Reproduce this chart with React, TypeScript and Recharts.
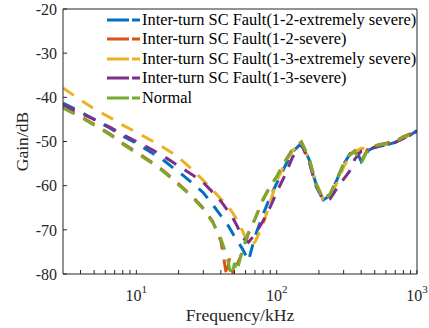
import { LineChart, Line, XAxis, YAxis } from 'recharts';

const freq = [3, 4, 5, 6.5, 8, 10, 12.5, 15, 18, 21, 25, 30, 35, 40, 44, 46, 48, 50, 52, 57, 63, 70, 80, 90, 100, 115, 130, 150, 170, 190, 215, 240, 270, 300, 330, 360, 400, 450, 500, 600, 700, 800, 900, 1000];

const fault12Extreme = [-41.3, -43.3, -45.0, -47.0, -48.8, -50.4, -52.3, -53.8, -55.8, -57.4, -59.4, -61.6, -64.3, -66.8, -68.5, -69.5, -70.5, -71.5, -72.3, -74.3, -77.0, -71.5, -66.5, -62.5, -59.5, -55.5, -52.3, -50.4, -54.0, -59.5, -63.2, -62.3, -58.5, -55.2, -53.0, -51.2, -54.5, -52.0, -51.3, -50.8, -50.2, -49.3, -48.5, -47.5];
const fault12Severe = [-42.2, -44.3, -46.1, -48.3, -50.4, -52.4, -54.4, -56.2, -58.3, -60.2, -62.4, -65.1, -68.1, -72.5, -80.5, -76.5, -79.0, -81.0, -78.0, -75.0, -70.8, -67.6, -63.2, -60.1, -58.0, -54.4, -51.7, -50.1, -53.7, -59.3, -63.1, -61.9, -58.3, -55.0, -53.0, -52.1, -54.6, -51.4, -50.9, -50.4, -49.9, -48.9, -48.2, -47.4];
const fault13Extreme = [-37.9, -40.6, -42.6, -44.6, -46.3, -47.9, -49.6, -51.0, -52.6, -54.2, -56.3, -58.8, -61.0, -63.0, -64.3, -65.1, -65.9, -66.8, -67.7, -70.2, -73.4, -72.8, -68.8, -63.7, -59.0, -54.8, -52.0, -50.3, -54.0, -59.8, -63.0, -62.4, -59.3, -55.8, -53.4, -52.3, -51.6, -51.4, -51.0, -50.7, -50.2, -49.3, -48.4, -47.7];
const fault13Severe = [-41.7, -43.6, -45.0, -46.8, -48.4, -50.0, -51.6, -53.0, -54.6, -56.0, -57.5, -59.3, -61.5, -63.5, -65.3, -66.2, -67.0, -68.0, -69.0, -71.8, -72.8, -71.0, -68.0, -64.8, -61.5, -57.5, -53.5, -50.7, -54.5, -60.0, -63.3, -63.0, -60.5, -58.5, -56.8, -54.0, -52.2, -51.8, -51.3, -50.8, -50.2, -49.3, -48.5, -47.7];
const normal = [-42.4, -44.5, -46.3, -48.5, -50.6, -52.6, -54.6, -56.4, -58.5, -60.4, -62.6, -65.3, -68.3, -72.0, -75.8, -78.5, -80.5, -77.5, -79.5, -74.5, -70.5, -67.5, -63.0, -60.0, -58.0, -54.5, -51.8, -50.2, -53.8, -59.5, -63.2, -62.0, -58.5, -55.2, -53.2, -52.3, -55.0, -51.5, -51.0, -50.5, -50.0, -49.0, -48.3, -47.5];

const seriesNames = [
  'Inter-turn SC Fault(1-2-extremely severe)',
  'Inter-turn SC Fault(1-2-severe)',
  'Inter-turn SC Fault(1-3-extremely severe)',
  'Inter-turn SC Fault(1-3-severe)',
  'Normal',
];
const seriesKeys = ['f12e', 'f12s', 'f13e', 'f13s', 'normal'];
const seriesColors = ['#0072BD', '#D95319', '#EDB120', '#7E2F8E', '#77AC30'];

const xTicks = [4, 5, 6, 7, 8, 9, 10, 20, 30, 40, 50, 60, 70, 80, 90, 100, 200, 300, 400, 500, 600, 700, 800, 900, 1000];
const yTicks = [-80, -70, -60, -50, -40, -30, -20];

const data = freq.map((f, i) => ({
  f,
  f12e: fault12Extreme[i],
  f12s: fault12Severe[i],
  f13e: fault13Extreme[i],
  f13s: fault13Severe[i],
  normal: normal[i],
}));

const FONT = '"Liberation Serif", "Times New Roman", serif';
const INK = '#262626';

function FreqTick({ x, y, payload }: any) {
  const v = payload.value as number;
  const exp = Math.round(Math.log10(v));
  if (Math.abs(Math.pow(10, exp) - v) > 1e-6) return <g />;
  return (
    <text x={x} y={y} dy={21} textAnchor="middle" fontFamily={FONT} fontSize={16} fill={INK}>
      <tspan>10</tspan>
      <tspan dy={-8} fontSize={11}>{exp}</tspan>
    </text>
  );
}

function LegendBox() {
  return (
    <div style={{ position: 'absolute', left: 107, top: 10, fontFamily: FONT, fontSize: 16.4, color: '#000' }}>
      {seriesNames.map((name, i) => (
        <div key={name} style={{ display: 'flex', alignItems: 'center', height: 19.5, whiteSpace: 'nowrap' }}>
          <svg width={33} height={4} style={{ marginRight: 2 }}>
            <line x1={0} y1={2} x2={33} y2={2} stroke={seriesColors[i]} strokeWidth={3} strokeDasharray="22 3" />
          </svg>
          <span>{name}</span>
        </div>
      ))}
    </div>
  );
}

export default function App() {
  return (
    <div style={{ position: 'absolute', left: 0, top: 0, width: 429, height: 328, background: '#fff' }}>
      <LineChart width={429} height={328} data={data} margin={{ top: 8, right: 11, bottom: 0, left: 0 }}>
        <XAxis
          dataKey="f"
          type="number"
          scale="log"
          domain={[3, 1000]}
          allowDataOverflow
          ticks={xTicks}
          interval={0}
          tickSize={-4}
          tickMargin={10}
          tick={<FreqTick />}
          height={54}
          stroke={INK}
          label={{ value: 'Frequency/kHz', position: 'insideBottom', offset: 7, fill: INK, fontSize: 17.6, fontFamily: FONT }}
        />
        <XAxis
          xAxisId="top"
          orientation="top"
          type="number"
          scale="log"
          domain={[3, 1000]}
          allowDataOverflow
          ticks={xTicks}
          interval={0}
          tickSize={-4}
          tick={false}
          height={1}
          stroke={INK}
        />
        <YAxis
          domain={[-80, -20]}
          allowDataOverflow
          ticks={yTicks}
          interval={0}
          tickSize={-4}
          tickMargin={10}
          width={63}
          stroke={INK}
          tick={{ fill: INK, fontSize: 16, fontFamily: FONT }}
          label={{ value: 'Gain/dB', angle: -90, position: 'insideLeft', offset: 22, fill: INK, fontSize: 17.6, fontFamily: FONT, style: { textAnchor: 'middle' } }}
        />
        <YAxis
          yAxisId="r"
          orientation="right"
          domain={[-80, -20]}
          allowDataOverflow
          ticks={yTicks}
          interval={0}
          tickSize={-4}
          tick={false}
          width={1}
          stroke={INK}
        />
        {seriesKeys.map((k, i) => (
          <Line
            key={k}
            type="linear"
            dataKey={k}
            stroke={seriesColors[i]}
            strokeWidth={3}
            strokeDasharray="13 10"
            dot={false}
            activeDot={false}
            isAnimationActive={false}
          />
        ))}
      </LineChart>
      <LegendBox />
    </div>
  );
}
